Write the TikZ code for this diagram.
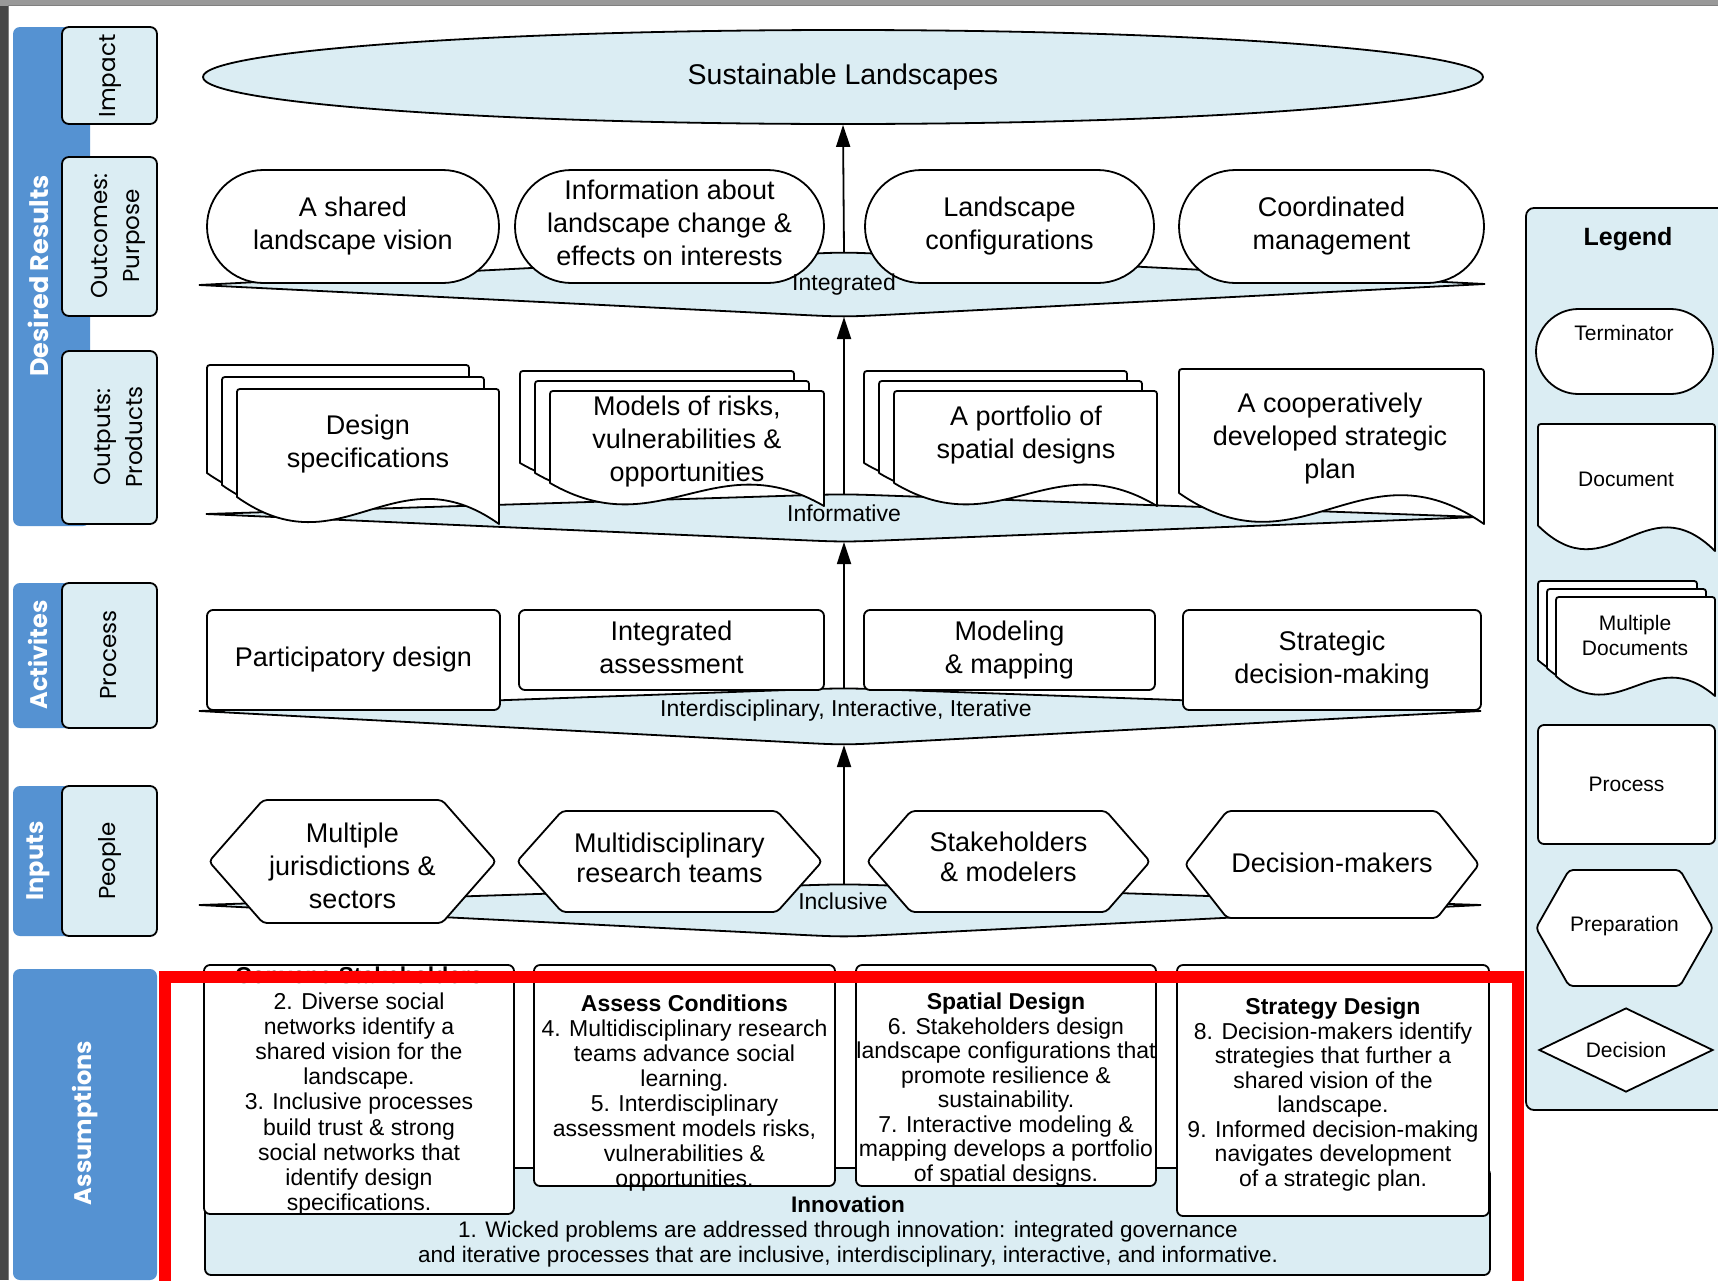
\documentclass[tikz,border=0pt]{standalone}
\usepackage{fontspec}
\setmainfont{Liberation Sans}
\newfontfamily\lblfont{Poppins}
\usetikzlibrary{shapes.geometric,shapes.misc,arrows.meta,calc}
\definecolor{lb}{RGB}{219,237,243}
\definecolor{stripc}{RGB}{85,146,210}
\newcommand\mainfs{\fontsize{27}{33}\selectfont}
\newcommand\ellfs{\fontsize{28.5}{33}\selectfont}
\newcommand\lensfs{\fontsize{23}{27}\selectfont}
\newcommand\asfs{\fontsize{23}{25}\selectfont}
\newcommand\legfs{\fontsize{21}{25}\selectfont}
\newcommand\sidefs{\lblfont\fontsize{23}{32}\selectfont}
\newcommand\stripfs{\lblfont\bfseries\fontsize{24}{28}\selectfont}
% document shape: x0 y0 x1 y1 (y1 = lowest point at right)
\newcommand\docshape[4]{%
  \draw[docline] (#1,{#2+0.8*(#4-#2)}) -- (#1,{#2+6}) .. controls (#1,#2) .. ({#1+6},#2)
    -- ({#3-6},#2) .. controls (#3,#2) .. (#3,{#2+6}) -- (#3,#4)
    .. controls ({#1+0.6*(#3-#1)},{#2+0.45*(#4-#2)}) and ({#1+0.4*(#3-#1)},{#2+1.35*(#4-#2)}) .. (#1,{#2+0.8*(#4-#2)}) -- cycle;}
% hexagon: x0 y0 x1 y1 slant
\newcommand\hexshape[5]{%
  \draw[docline,rounded corners=4pt] (#1,{(#2+#4)/2}) -- ({#1+#5},#2) -- ({#3-#5},#2) -- (#3,{(#2+#4)/2})
    -- ({#3-#5},#4) -- ({#1+#5},#4) -- cycle;}
% lens: L R T B
\newcommand\lensshape[4]{%
  \draw[lensst] (#1) -- ($(#3)!0.08!(#1)$) .. controls (#3) .. ($(#3)!0.08!(#2)$) -- (#2)
    -- ($(#4)!0.08!(#2)$) .. controls (#4) .. ($(#4)!0.08!(#1)$) -- cycle;}
\begin{document}
\begin{tikzpicture}[x=1pt,y=-1pt,
  docline/.style={draw=black,fill=white,line width=1.8pt,line join=round},
  lensst/.style={draw=black,fill=lb,line width=1.8pt},
  mt/.style={font=\mainfs,align=center,inner sep=0pt},
  term/.style={rounded rectangle,draw,fill=white,line width=1.8pt,inner sep=0pt,font=\mainfs,align=center},
  proc/.style={rectangle,rounded corners=6pt,draw,fill=white,line width=1.8pt,inner sep=0pt,font=\mainfs,align=center},
  lensl/.style={font=\lensfs,inner sep=0pt},
  sidebox/.style={draw,fill=lb,line width=1.8pt,rounded corners=7pt},
  stripbox/.style={fill=stripc,rounded corners=7pt},
  sidel/.style={font=\sidefs,rotate=90,align=center,inner sep=0pt},
  stripl/.style={font=\stripfs,text=white,rotate=90,inner sep=0pt},
  astext/.style={font=\asfs,align=center,inner sep=0pt},
  asbox/.style={draw,fill=white,line width=1.8pt,rounded corners=6pt},
  legt/.style={font=\legfs,align=center,inner sep=0pt},
  arr/.style={line width=1.8pt,-{Triangle[width=14pt,length=22pt]}}
]
\useasboundingbox (0,0) rectangle (1718,1280);
% screenshot surroundings
\fill[black!72] (0,0) rectangle (1718,1280);
\fill[black!40] (0,0) rectangle (1718,6);
\fill[white] (9,6) rectangle (1718,1280);
\draw[black!50,line width=1pt] (8.5,1280) -- (8.5,5.5) -- (1718,5.5);

% ---------- left column ----------
\fill[stripbox] (13,27) rectangle (90,526);
\fill[stripbox] (13,583) rectangle (90,728);
\fill[stripbox] (13,786) rectangle (90,936);
\fill[stripbox] (13,969) rectangle (157,1280);
\node[stripl,font=\lblfont\bfseries\fontsize{25.5}{28}\selectfont] (sDesired) at (38,276) {Desired Results};
\node[stripl] (sAct) at (38,655) {Activites};
\node[stripl] (sInp) at (38,861) {Inputs};
\node[stripl] (sAss) at (85,1123) {Assumptions};
\draw[sidebox] (62,27) rectangle (157,124);
\draw[sidebox] (62,157) rectangle (157,316);
\draw[sidebox] (62,351) rectangle (157,524);
\draw[sidebox] (62,583) rectangle (157,728);
\draw[sidebox] (62,786) rectangle (157,936);
\node[sidel] (lImpact) at (110,76) {Impact};
\node[sidel] (lOutc) at (118,236) {Outcomes:\\Purpose};
\node[sidel] (lOutp) at (118,437) {Outputs:\\Products};
\node[sidel] (lProc) at (109,655) {Process};
\node[sidel] (lPeople) at (110,861) {People};

% ---------- impact ----------
\node[ellipse,draw,fill=lb,line width=1.8pt,minimum width=1280pt,minimum height=94pt,inner sep=0pt,font=\ellfs] (impact) at (843,77) {Sustainable Landscapes};

% ---------- lenses ----------
\coordinate (igL) at (199,285); \coordinate (igR) at (1485,284); \coordinate (igT) at (844,252); \coordinate (igB) at (844,317);
\coordinate (ifL) at (206,514); \coordinate (ifR) at (1479,517); \coordinate (ifT) at (844,494); \coordinate (ifB) at (844,542);
\coordinate (itL) at (199,711); \coordinate (itR) at (1481,711); \coordinate (itT) at (844,688); \coordinate (itB) at (844,745);
\coordinate (icL) at (199,905); \coordinate (icR) at (1481,905); \coordinate (icT) at (844,884); \coordinate (icB) at (844,937);
\lensshape{igL}{igR}{igT}{igB}
\lensshape{ifL}{ifR}{ifT}{ifB}
\lensshape{itL}{itR}{itT}{itB}
\lensshape{icL}{icR}{icT}{icB}

\draw[arr] (igT) -- (impact.south);
\draw[arr] (ifT) -- (igB);
\draw[arr] (itT) -- (ifB);
\draw[arr] (icT) -- (itB);

% ---------- outcomes ----------
\node[term,minimum width=292pt,minimum height=113pt] (o1) at (353,226.5) {A shared\\landscape vision};
\node[term,minimum width=309pt,minimum height=113pt] (o2) at (669.5,226.5) {};
\node[mt] (o2t) at (669.5,223) {Information about\\landscape change \&\\effects on interests};
\node[term,minimum width=289pt,minimum height=113pt] (o3) at (1009.5,226.5) {Landscape\\configurations};
\node[term,minimum width=305pt,minimum height=113pt] (o4) at (1331.5,226.5) {Coordinated\\management};
\node[lensl] (lIntegrated) at (844,285) {Integrated};

% ---------- outputs ----------
\docshape{207}{365}{469}{500}
\docshape{222}{377}{484}{512}
\docshape{237}{389}{499}{524}
\docshape{520}{371}{794}{486}
\docshape{535}{381}{809}{496}
\docshape{550}{391}{824}{506}
\docshape{864}{371}{1127}{486}
\docshape{879}{381}{1142}{496}
\docshape{894}{391}{1157}{506}
\docshape{1179}{369}{1484}{524}
\node[mt] (d1) at (368,444) {Design\\specifications};
\node[mt] (d2) at (687,442) {Models of risks,\\vulnerabilities \&\\opportunities};
\node[mt] (d3) at (1026,435) {A portfolio of\\spatial designs};
\node[mt] (d4) at (1330,439) {A cooperatively\\developed strategic\\plan};
\node[lensl] (lInformative) at (844,513) {Informative};

% ---------- process ----------
\node[proc,minimum width=293pt,minimum height=100pt] (p1) at (353.5,660) {Participatory design};
\node[proc,minimum width=305pt,minimum height=80pt] (p2) at (671.5,650) {};
\node[mt] (p2t) at (671.5,647) {Integrated\\assessment};
\node[proc,minimum width=291pt,minimum height=80pt] (p3) at (1009.5,650) {Modeling\\\& mapping};
\node[proc,minimum width=298pt,minimum height=100pt] (p4) at (1332,660) {Strategic\\decision-making};
\node[lensl] (lInter) at (846,711) {Interdisciplinary, Interactive, Iterative};

% ---------- inputs ----------
\hexshape{209}{800}{496}{923}{54}
\hexshape{517}{811}{822}{912}{45}
\hexshape{867}{811}{1150}{912}{44}
\hexshape{1185}{811}{1479}{918}{42}
\node[mt] (h1) at (352.5,866) {Multiple\\jurisdictions \&\\sectors};
\node[mt,font=\fontsize{27}{30}\selectfont] (h2) at (669.5,858) {Multidisciplinary\\research teams};
\node[mt,font=\fontsize{27}{30}\selectfont] (h3) at (1008.5,857) {Stakeholders\\\& modelers};
\node[mt] (h4) at (1332,863) {Decision-makers};
\node[lensl] (lIncl) at (843,901) {Inclusive};

% ---------- assumptions ----------
\draw[draw,fill=lb,line width=1.8pt,rounded corners=6pt] (205,1168) rectangle (1490,1275);
\draw[asbox] (204,965) rectangle (514,1214);
\draw[asbox] (534,965) rectangle (835,1186);
\draw[asbox] (856,965) rectangle (1156,1186);
\draw[asbox] (1177,965) rectangle (1489,1216);
\node[astext,font=\bfseries\fontsize{23}{25}\selectfont] (a1h) at (359,975) {Convene Stakeholders};
\node[astext,font=\fontsize{23}{25.2}\selectfont] (a1) at (359,1104) {2. Diverse social\\networks identify a\\shared vision for the\\landscape.\\3. Inclusive processes\\build trust \& strong\\social networks that\\identify design\\specifications.};
\node[astext] (a2) at (684.5,1093) {\textbf{Assess Conditions}\\4. Multidisciplinary research\\teams advance social\\learning.\\5. Interdisciplinary\\assessment models risks,\\vulnerabilities \&\\opportunities.};
\node[astext,font=\fontsize{23}{24.5}\selectfont] (a3) at (1006,1089.5) {\textbf{Spatial Design}\\6. Stakeholders design\\landscape configurations that\\promote resilience \&\\sustainability.\\7. Interactive modeling \&\\mapping develops a portfolio\\of spatial designs.};
\node[astext,font=\fontsize{23}{24.5}\selectfont] (a4) at (1333,1094.5) {\textbf{Strategy Design}\\8. Decision-makers identify\\strategies that further a\\shared vision of the\\landscape.\\9. Informed decision-making\\navigates development\\of a strategic plan.};
\node[astext,font=\fontsize{22.5}{25}\selectfont] (innov) at (848,1232) {\textbf{Innovation}\\1. Wicked problems are addressed through innovation: integrated governance\\and iterative processes that are inclusive, interdisciplinary, interactive, and informative.};

% ---------- legend ----------
\draw[draw,fill=lb,line width=1.8pt,rounded corners=8pt] (1526,208) rectangle (1745,1110);
\node[font=\bfseries\fontsize{25}{30}\selectfont,inner sep=0pt] (legTitle) at (1628,239) {Legend};
\node[term,minimum width=177pt,minimum height=85pt] (legTerm) at (1624.5,351.5) {};
\node[legt] (legTermT) at (1624,333) {Terminator};
\docshape{1538}{424}{1715}{551}
\node[legt] (legDoc) at (1626,479) {Document};
\docshape{1538}{581}{1697}{680}
\docshape{1547}{589}{1706}{688}
\docshape{1556}{597}{1715}{696}
\node[legt] (legMulti) at (1635,635) {Multiple\\Documents};
\node[proc,font=\legfs,minimum width=177pt,minimum height=119pt] (legProc) at (1626.5,784.5) {Process};
\hexshape{1536}{870}{1713}{986}{33}
\node[legt] (legPrep) at (1624.5,926) {Preparation};
\node[diamond,draw,fill=white,line width=1.8pt,inner sep=0pt,aspect=2,minimum width=174pt,minimum height=84pt,font=\legfs] (legDec) at (1626,1050) {Decision};

% ---------- highlight ----------
\draw[red,line width=12pt] (165,977) rectangle (1518,1300);
\end{tikzpicture}
\end{document}
